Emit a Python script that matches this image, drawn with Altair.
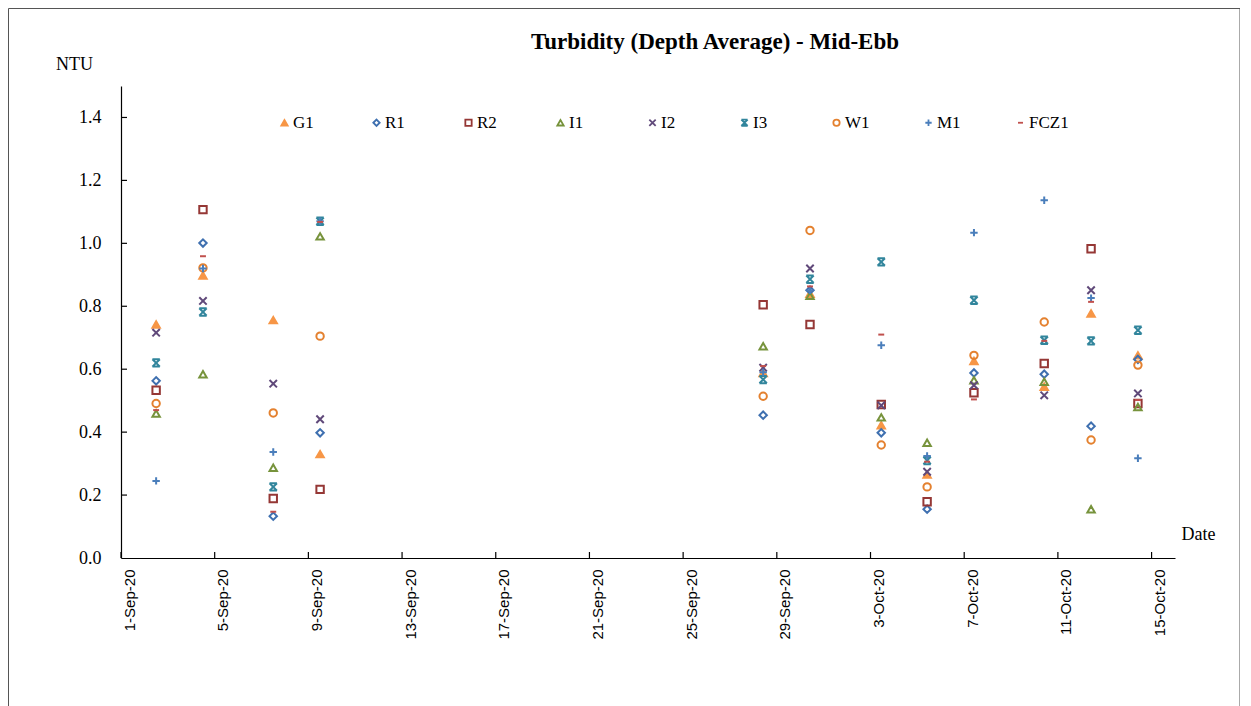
import altair as alt
import pandas as pd

# ---------------- data ----------------
series = ["G1", "R1", "R2", "I1", "I2", "I3", "W1", "M1", "FCZ1"]

dates = ["2020/09/02 12:00", "2020/09/04 12:00", "2020/09/07 12:00", "2020/09/09 12:00",
         "2020/09/28 10:00", "2020/09/30 10:00", "2020/10/03 11:00", "2020/10/05 10:00",
         "2020/10/07 10:00", "2020/10/10 10:00", "2020/10/12 10:00", "2020/10/14 10:00"]

G1 = [0.742, 0.898, 0.756, 0.330, 0.588, 0.840, 0.422, 0.265, 0.626, 0.544, 0.777, 0.644]
R1 = [0.563, 1.001, 0.133, 0.398, 0.454, 0.851, 0.398, 0.155, 0.588, 0.584, 0.419, 0.631]
R2 = [0.533, 1.107, 0.189, 0.218, 0.805, 0.742, 0.488, 0.179, 0.525, 0.618, 0.983, 0.491]
I1 = [0.459, 0.584, 0.287, 1.022, 0.673, 0.833, 0.447, 0.366, 0.565, 0.560, 0.155, 0.480]
I2 = [0.716, 0.817, 0.554, 0.441, 0.605, 0.920, 0.485, 0.274, 0.549, 0.517, 0.851, 0.523]
I3 = [0.620, 0.782, 0.226, 1.070, 0.567, 0.886, 0.941, 0.310, 0.819, 0.692, 0.690, 0.724]
W1 = [0.491, 0.922, 0.461, 0.705, 0.514, 1.041, 0.359, 0.226, 0.644, 0.750, 0.375, 0.613]
M1 = [0.245, 0.920, 0.337, 1.070, 0.590, 0.851, 0.676, 0.324, 1.034, 1.137, 0.826, 0.317]
FCZ1 = [0.470, 0.959, 0.147, 1.068, 0.610, 0.863, 0.710, 0.306, 0.504, 0.690, 0.814, 0.502]

tick_dates = ["2020/09/01", "2020/09/05", "2020/09/09", "2020/09/13", "2020/09/17", "2020/09/21",
              "2020/09/25", "2020/09/29", "2020/10/03", "2020/10/07", "2020/10/11", "2020/10/15"]
y_ticks = [0.2, 0.4, 0.6, 0.8, 1.0, 1.2, 1.4]

values = {"G1": G1, "R1": R1, "R2": R2, "I1": I1, "I2": I2, "I3": I3,
          "W1": W1, "M1": M1, "FCZ1": FCZ1}

rows = []
for s in series:
    for d, v in zip(dates, values[s]):
        rows.append({"Date": d, "NTU": v, "Station": s})
df = pd.DataFrame(rows)

# ---------------- styles ----------------
X_PATH = "M-1,-1L1,1M-1,1L1,-1"
STAR_PATH = "M-1,-1L1,-1M-1,1L1,1M-1,-1L1,1M1,-1L-1,1"
PLUS_PATH = "M-1,0L1,0M0,-1L0,1"
DASH_PATH = "M-0.8,0L0.8,0"

shapes = ["triangle-up", "diamond", "square", "triangle-up", X_PATH, STAR_PATH,
          "circle", PLUS_PATH, DASH_PATH]
strokes = ["#F79646", "#3F70B0", "#953735", "#77933C", "#60497A", "#31859C",
           "#E4812F", "#4A7EBB", "#C0504D"]
fills = ["#F79646", "transparent", "transparent", "transparent", "transparent",
         "transparent", "transparent", "transparent", "transparent"]

SERIF = "Liberation Serif"
SANS = "Liberation Sans"

W, H = 1054, 472


def to_dt(s):
    y, m, d = s.split("/")
    return alt.DateTime(year=int(y), month=int(m), date=int(d))


x_scale = alt.Scale(domain=[alt.DateTime(year=2020, month=9, date=1),
                            alt.DateTime(year=2020, month=10, date=16)])
y_scale = alt.Scale(domain=[0, 1.5], nice=False)

legend = alt.Legend(title=None, orient="none", legendX=155, legendY=28,
                    direction="horizontal", columns=9, gridAlign="all",
                    columnPadding=35, symbolSize=40, symbolStrokeWidth=1.8,
                    labelFont=SERIF, labelFontSize=17, labelColor="black",
                    labelOffset=0, padding=0)

points = alt.Chart(df).mark_point(size=55, strokeWidth=2, opacity=1).encode(
    x=alt.X("Date:T", scale=x_scale,
            axis=alt.Axis(values=[to_dt(t) for t in tick_dates], format="%-d-%b-%y",
                          labelAngle=270, labelAlign="right", labelBaseline="middle",
                          labelFont=SANS, labelFontSize=15, labelColor="black",
                          labelPadding=11, labelOffset=8, tickSize=0,
                          domainColor="black", domainWidth=1.2, grid=False,
                          labelOverlap=False,
                          title="Date", titleFont=SERIF, titleFontSize=18,
                          titleFontWeight="normal", titleColor="black",
                          titleX=1077, titleY=-24, titleAlign="center",
                          titleBaseline="middle", titleAngle=0)),
    y=alt.Y("NTU:Q", scale=y_scale,
            axis=alt.Axis(values=[0.0] + y_ticks, format=".1f", tickSize=0,
                          labelFont=SERIF, labelFontSize=18, labelColor="black",
                          labelPadding=20, domainColor="black", domainWidth=1.2,
                          grid=False,
                          title="NTU", titleFont=SERIF, titleFontSize=18,
                          titleFontWeight="normal", titleColor="black",
                          titleAngle=0, titleX=-47, titleY=-22,
                          titleAlign="center", titleBaseline="middle")),
    shape=alt.Shape("Station:N", scale=alt.Scale(domain=series, range=shapes),
                    legend=legend),
    stroke=alt.Stroke("Station:N", scale=alt.Scale(domain=series, range=strokes),
                      legend=legend),
    fill=alt.Fill("Station:N", scale=alt.Scale(domain=series, range=fills),
                  legend=legend),
)

xt = pd.DataFrame({"Date": tick_dates})
x_ticks_layer = alt.Chart(xt).mark_rule(color="black", strokeWidth=1.2).encode(
    x=alt.X("Date:T", scale=x_scale),
    y=alt.value(H - 6), y2=alt.value(H))

yt = pd.DataFrame({"NTU": y_ticks})
y_ticks_layer = alt.Chart(yt).mark_rule(color="black", strokeWidth=1.2).encode(
    y=alt.Y("NTU:Q", scale=y_scale),
    x=alt.value(0), x2=alt.value(6))

frame = alt.Chart(pd.DataFrame({"k": [0]})).mark_rect(
    fill="transparent", stroke="#555555", strokeWidth=1).encode(
    x=alt.value(-112.5), x2=alt.value(1119), y=alt.value(-77.5), y2=alt.value(640))

chart = alt.layer(frame, x_ticks_layer, y_ticks_layer, points).properties(
    width=W, height=H,
    title=alt.TitleParams("Turbidity (Depth Average) - Mid-Ebb", font=SERIF, fontSize=23,
                          fontWeight="bold", color="black", anchor="middle", dx=67,
                          offset=0, dy=64, baseline="alphabetic"),
    autosize=alt.AutoSizeParams(type="none"),
    padding={"left": 113, "top": 78, "right": 65, "bottom": 150},
    background="white",
).configure_view(stroke=None)

chart.save("out.html", embed_options={"renderer": "svg", "actions": False})
